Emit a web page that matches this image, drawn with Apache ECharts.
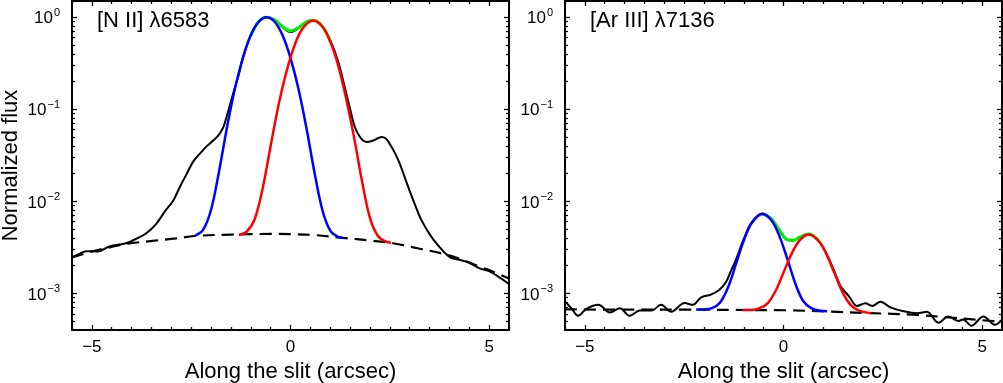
<!DOCTYPE html>
<html>
<head>
<meta charset="utf-8">
<script src="https://cdn.jsdelivr.net/npm/echarts@6/dist/echarts.min.js"></script>
<style>
html, body { margin: 0; padding: 0; background: #fff; }
#main { width: 1003px; height: 383px; }
</style>
</head>
<body>
<div id="main"></div>
<script>
// ---- [N II] 6583 panel ----
var niiObsX = [-5.5, -5.3, -5.14, -4.85, -4.56, -4.14, -3.89, -3.63, -3.38, -3.15, -2.95, -2.78, -2.61, -2.45, -2.28, -2.1, -1.94, -1.8, -1.69, -1.6, -1.44, -1.3, -1.2, -1.0, -0.8, -0.6, -0.4, -0.2, 0.0, 0.2, 0.4, 0.57, 0.8, 1.0, 1.2, 1.4, 1.49, 1.6, 1.7, 1.8, 1.91, 2.1, 2.29, 2.4, 2.5, 2.62, 2.75, 2.88, 3.0, 3.15, 3.3, 3.5, 3.72, 4.01, 4.26, 4.47, 4.76, 5.01, 5.26, 5.5];
var niiObsY = [2.47e-3, 2.7e-3, 2.87e-3, 2.85e-3, 3.23e-3, 3.5e-3, 3.9e-3, 4.5e-3, 5.7e-3, 7.9e-3, 0.0102, 0.0145, 0.020, 0.027, 0.033, 0.040, 0.046, 0.053, 0.064, 0.085, 0.15, 0.24, 0.36, 0.64, 0.895, 1.0, 0.93, 0.78, 0.69, 0.76, 0.88, 0.92, 0.80, 0.56, 0.33, 0.15, 0.105, 0.068, 0.054, 0.047, 0.044, 0.046, 0.050, 0.048, 0.042, 0.034, 0.0257, 0.018, 0.013, 8.8e-3, 6.2e-3, 4.4e-3, 3.3e-3, 2.47e-3, 2.3e-3, 2.18e-3, 1.87e-3, 1.73e-3, 1.49e-3, 1.26e-3];
var niiContX = [-5.5, -5.0, -4.5, -4.14, -3.47, -2.88, -2.42, -1.5, -0.5, 0.0, 0.6, 1.33, 2.0, 2.58, 3.26, 3.93, 4.4, 4.76, 5.1, 5.5];
var niiContY = [2.45e-3, 2.85e-3, 3.2e-3, 3.45e-3, 3.72e-3, 3.95e-3, 4.2e-3, 4.35e-3, 4.42e-3, 4.4e-3, 4.3e-3, 4.0e-3, 3.75e-3, 3.5e-3, 3.05e-3, 2.63e-3, 2.25e-3, 1.95e-3, 1.72e-3, 1.45e-3];
var niiBlueX = [-2.4, -2.2, -2.0, -1.8, -1.6, -1.4, -1.2, -1.0, -0.8, -0.6, -0.4, -0.2, 0.0, 0.2, 0.4, 0.6, 0.8, 1.0, 1.2, 1.33];
var niiBlueY = [4.25e-3, 4.9e-3, 8.1e-3, 0.021, 0.063, 0.167, 0.36, 0.635, 0.893, 1.0, 0.893, 0.635, 0.36, 0.167, 0.063, 0.021, 8.1e-3, 4.8e-3, 4.1e-3, 4.0e-3];
var niiRedX = [-1.3, -1.1, -0.9, -0.7, -0.5, -0.3, -0.1, 0.1, 0.3, 0.57, 0.8, 1.0, 1.2, 1.4, 1.6, 1.8, 2.0, 2.2, 2.4, 2.53];
var niiRedY = [4.3e-3, 4.7e-3, 6.4e-3, 0.0139, 0.040, 0.112, 0.258, 0.492, 0.748, 0.92, 0.792, 0.545, 0.299, 0.131, 0.0495, 0.0166, 6.6e-3, 4.2e-3, 3.65e-3, 3.55e-3];
var niiSumX = [-1.0, -0.8, -0.6, -0.4, -0.2, 0.0, 0.2, 0.4, 0.57, 0.8, 1.0];
var niiSumY = [0.636, 0.897, 1.0, 0.94, 0.79, 0.71, 0.77, 0.89, 0.925, 0.796, 0.548];

// ---- [Ar III] 7136 panel ----
var arObsX = [-5.48, -5.33, -5.17, -4.96, -4.66, -4.37, -4.12, -3.87, -3.62, -3.33, -3.08, -2.83, -2.49, -2.28, -2.08, -1.83, -1.62, -1.45, -1.32, -1.2, -1.0, -0.8, -0.53, -0.3, -0.1, 0.1, 0.26, 0.4, 0.64, 0.9, 1.1, 1.3, 1.43, 1.64, 1.85, 2.06, 2.23, 2.44, 2.69, 3.02, 3.36, 3.61, 3.9, 4.15, 4.4, 4.52, 4.73, 5.03, 5.32, 5.49];
var arObsY = [8.0e-4, 6.8e-4, 5.7e-4, 6.8e-4, 7.5e-4, 6.2e-4, 6.9e-4, 5.7e-4, 6.5e-4, 6.5e-4, 7.5e-4, 6.3e-4, 7.85e-4, 7.5e-4, 9.0e-4, 9.7e-4, 1.09e-3, 1.32e-3, 1.77e-3, 2.3e-3, 3.9e-3, 5.9e-3, 7.35e-3, 6.4e-3, 4.8e-3, 3.8e-3, 3.75e-3, 4.05e-3, 4.38e-3, 3.65e-3, 2.6e-3, 1.65e-3, 1.21e-3, 9.4e-4, 7.3e-4, 7.8e-4, 7.3e-4, 8.1e-4, 7.05e-4, 6.4e-4, 6.1e-4, 6.3e-4, 4.8e-4, 5.6e-4, 5.0e-4, 5.2e-4, 4.45e-4, 5.6e-4, 4.56e-4, 5.1e-4];
var arContX = [-5.5, -4.0, -2.5, -1.0, 0.1, 1.1, 2.2, 3.27, 4.11, 5.28, 5.5];
var arContY = [6.7e-4, 6.65e-4, 6.65e-4, 6.6e-4, 6.55e-4, 6.35e-4, 6.1e-4, 5.86e-4, 5.5e-4, 5.0e-4, 4.95e-4];
var arBlueX = [-2.2, -2.0, -1.8, -1.6, -1.4, -1.2, -1.0, -0.8, -0.53, -0.3, -0.1, 0.1, 0.3, 0.5, 0.7, 0.9, 1.1];
var arBlueY = [6.7e-4, 6.7e-4, 6.9e-4, 7.9e-4, 1.15e-3, 2.06e-3, 3.75e-3, 5.82e-3, 7.3e-3, 6.19e-3, 4.16e-3, 2.34e-3, 1.27e-3, 8.2e-4, 6.9e-4, 6.5e-4, 6.4e-4];
var arRedX = [-1.03, -0.8, -0.6, -0.4, -0.2, 0.0, 0.2, 0.4, 0.64, 0.9, 1.1, 1.3, 1.5, 1.7, 1.9, 2.21];
var arRedY = [6.6e-4, 6.6e-4, 6.9e-4, 7.8e-4, 1.06e-3, 1.68e-3, 2.67e-3, 3.74e-3, 4.35e-3, 3.64e-3, 2.55e-3, 1.59e-3, 1.0e-3, 7.4e-4, 6.5e-4, 6.1e-4];
var arSumX = [-0.53, -0.3, -0.1, 0.1, 0.26, 0.4, 0.64, 0.9];
var arSumY = [7.35e-3, 6.42e-3, 4.83e-3, 3.83e-3, 3.78e-3, 4.07e-3, 4.41e-3, 3.65e-3];

// ---- axes / ticks ----
var panelTitles = ['[N II] \u03bb6583', '[Ar III] \u03bb7136'];
var xMajor = [-5, 0, 5];
var xLabels = ['\u22125', '0', '5'];
var xMinor = [-5.5, -4.5, -4, -3.5, -3, -2.5, -2, -1.5, -1, -0.5, 0.5, 1, 1.5, 2, 2.5, 3, 3.5, 4, 4.5, 5.5];
var yMajor = [1e-3, 1e-2, 1e-1, 1];
var yExp = ['\u22123', '\u22122', '\u22121', '0'];
var yMinor = [5e-4, 6e-4, 7e-4, 8e-4, 9e-4, 2e-3, 3e-3, 4e-3, 5e-3, 6e-3, 7e-3, 8e-3, 9e-3,
              0.02, 0.03, 0.04, 0.05, 0.06, 0.07, 0.08, 0.09, 0.2, 0.3, 0.4, 0.5, 0.6, 0.7, 0.8, 0.9];

var FONT = '"Liberation Sans", Arial, Helvetica, sans-serif';
var gridLefts = [72, 565];

function zip(xs, ys) {
    return xs.map(function (x, i) { return [x, ys[i]]; });
}

function xAxisFor(g, pos, major, withLabels) {
    return {
        gridIndex: g, type: 'value', min: -5.5, max: 5.5, position: pos,
        axisLine: { show: major, onZero: false, lineStyle: { color: '#000', width: 2 } },
        axisTick: { show: true, inside: true, length: major ? 5 : 3, customValues: major ? xMajor : xMinor,
                    lineStyle: { color: '#000', width: 1.3 } },
        axisLabel: withLabels ? {
            show: true, customValues: xMajor, margin: 9, color: '#000', fontSize: 17, fontFamily: FONT,
            formatter: function (v) {
                var k = xMajor.indexOf(Math.round(v));
                return k >= 0 ? xLabels[k] : '';
            }
        } : { show: false },
        splitLine: { show: false },
        name: withLabels ? 'Along the slit (arcsec)' : '',
        nameLocation: 'middle', nameGap: 27,
        nameTextStyle: { color: '#000', fontSize: 22, fontFamily: FONT }
    };
}

function yAxisFor(g, pos, major, withLabels, name) {
    return {
        gridIndex: g, type: 'log', logBase: 10, min: 4e-4, max: 1.5, position: pos,
        axisLine: { show: major, onZero: false, lineStyle: { color: '#000', width: 2 } },
        axisTick: { show: true, inside: true, length: major ? 5 : 3, customValues: major ? yMajor : yMinor,
                    lineStyle: { color: '#000', width: 1.3 } },
        axisLabel: withLabels ? {
            show: true, customValues: yMajor, margin: 12, color: '#000', fontFamily: FONT,
            formatter: function (v) {
                var e = Math.log10(v);
                var k = -1;
                yMajor.forEach(function (t, i) { if (Math.abs(Math.log10(t) - e) < 1e-6) k = i; });
                return k >= 0 ? '{b|10}{s|' + yExp[k] + '}' : '';
            },
            rich: {
                b: { fontSize: 17, lineHeight: 20, verticalAlign: 'bottom', fontFamily: FONT, color: '#000' },
                s: { fontSize: 11, lineHeight: 11, verticalAlign: 'top', fontFamily: FONT, color: '#000', padding: [0, 0, 0, 1] }
            }
        } : { show: false },
        splitLine: { show: false },
        minorTick: { show: false },
        name: name || '',
        nameLocation: 'middle', nameGap: 50,
        nameTextStyle: { color: '#000', fontSize: 22, fontFamily: FONT }
    };
}

var grids = [], xAxes = [], yAxes = [], titles = [];
for (var g = 0; g < 2; g++) {
    grids.push({ left: gridLefts[g], top: 1, width: 437, height: 329, containLabel: false, outerBoundsMode: 'none' });
    xAxes.push(xAxisFor(g, 'bottom', true, true));
    xAxes.push(xAxisFor(g, 'bottom', false, false));
    xAxes.push(xAxisFor(g, 'top', true, false));
    xAxes.push(xAxisFor(g, 'top', false, false));
    yAxes.push(yAxisFor(g, 'left', true, true, g === 0 ? 'Normalized flux' : ''));
    yAxes.push(yAxisFor(g, 'left', false, false));
    yAxes.push(yAxisFor(g, 'right', true, false));
    yAxes.push(yAxisFor(g, 'right', false, false));
    titles.push({
        text: panelTitles[g], left: gridLefts[g] + 20, top: 5,
        textStyle: { color: '#000', fontSize: 22, fontWeight: 'normal', fontFamily: FONT }
    });
}

function curve(g, xs, ys, color, width, dashed, z) {
    return {
        type: 'line', xAxisIndex: 4 * g, yAxisIndex: 4 * g,
        data: zip(xs, ys), showSymbol: false, smooth: 0.35, z: z,
        lineStyle: { color: color, width: width, type: dashed ? [12, 7] : 'solid' },
        emphasis: { disabled: true }, silent: true
    };
}

var series = [
    curve(0, niiObsX, niiObsY, '#000', 2, false, 2),
    curve(0, niiContX, niiContY, '#000', 2.2, true, 3),
    curve(0, niiSumX, niiSumY, '#00ee00', 3, false, 4),
    curve(0, niiBlueX, niiBlueY, '#0000ff', 2.5, false, 5),
    curve(0, niiRedX, niiRedY, '#ff0000', 2.5, false, 6),
    curve(1, arObsX, arObsY, '#000', 2, false, 2),
    curve(1, arContX, arContY, '#000', 2.2, true, 3),
    curve(1, arSumX, arSumY, '#00ee00', 3, false, 4),
    curve(1, arBlueX, arBlueY, '#0000ff', 2.5, false, 5),
    curve(1, arRedX, arRedY, '#ff0000', 2.5, false, 6)
];

var myChart = echarts.init(document.getElementById('main'), null, { renderer: 'canvas' });
myChart.setOption({
    animation: false,
    backgroundColor: '#fff',
    title: titles,
    grid: grids,
    xAxis: xAxes,
    yAxis: yAxes,
    series: series
});
</script>
</body>
</html>
